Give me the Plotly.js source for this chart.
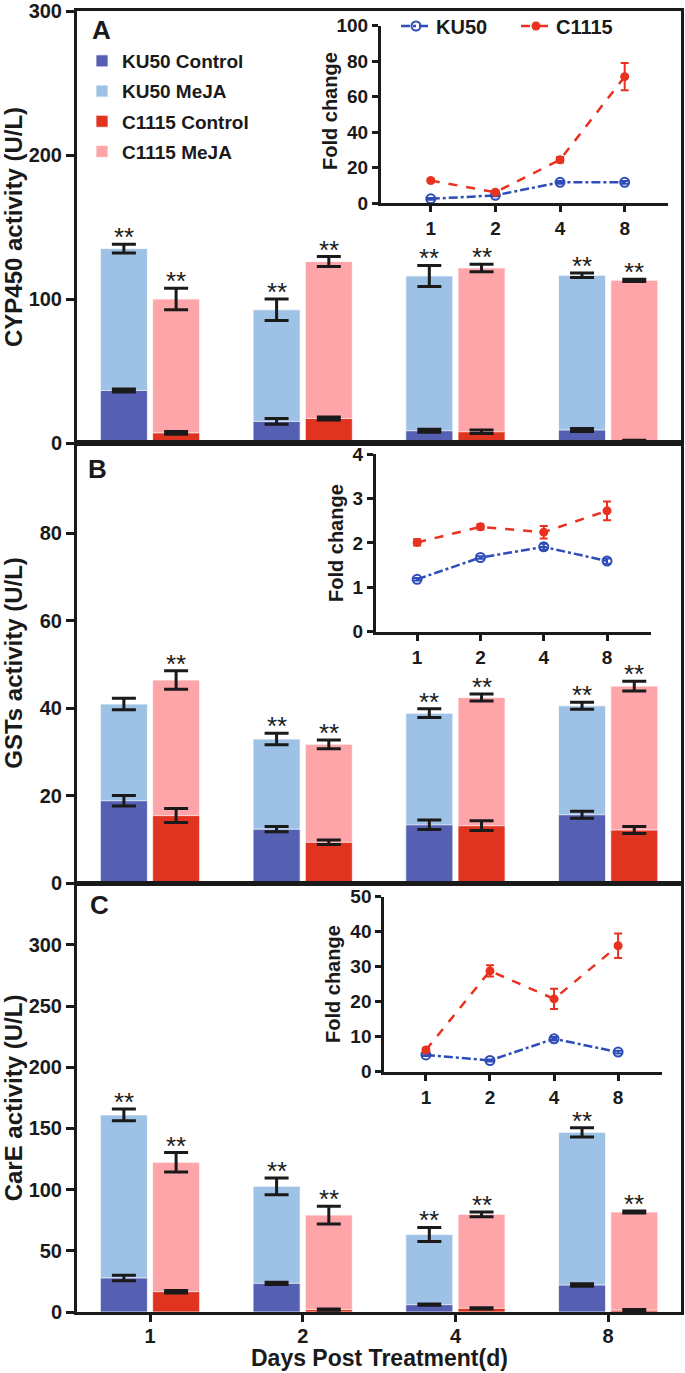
<!DOCTYPE html>
<html>
<head>
<meta charset="utf-8">
<script src="https://cdn.plot.ly/plotly-3.0.1.min.js"></script>
<style>
html,body{margin:0;padding:0;background:#fff;}
#chart{width:685px;height:1373px;}
</style>
</head>
<body>
<div id="chart"></div>
<script>
// ---------------- DATA ----------------
const days = ['1', '2', '4', '8'];
const seriesNames = ['KU50 Control', 'KU50 MeJA', 'C1115 Control', 'C1115 MeJA'];

// Panel A: CYP450 activity (U/L)
const aKu50Ctrl = [36.5, 15, 8.5, 9];
const aKu50CtrlErr = [1, 2, 1, 1];
const aKu50Meja = [135, 92.5, 116, 116.5];
const aKu50MejaErr = [3, 7.5, 7.3, 1.5];
const aC1115Ctrl = [7, 17, 7.8, 1.4];
const aC1115CtrlErr = [1, 1, 1.2, 0.5];
const aC1115Meja = [100, 126, 121.6, 113];
const aC1115MejaErr = [7.5, 3.5, 2.6, 0.8];
const aKu50Sig = [true, true, true, true];
const aC1115Sig = [true, true, true, true];

// Panel B: GSTs activity (U/L)
const bKu50Ctrl = [18.8, 12.3, 13.3, 15.6];
const bKu50CtrlErr = [1.2, 0.6, 1.1, 0.8];
const bKu50Meja = [40.9, 32.9, 38.8, 40.5];
const bKu50MejaErr = [1.3, 1.3, 1.0, 0.8];
const bC1115Ctrl = [15.4, 9.3, 13.1, 12.1];
const bC1115CtrlErr = [1.6, 0.5, 1.1, 0.8];
const bC1115Meja = [46.4, 31.7, 42.4, 45];
const bC1115MejaErr = [2.1, 1.0, 0.8, 1.1];
const bKu50Sig = [false, true, true, true];
const bC1115Sig = [true, true, true, true];

// Panel C: CarE activity (U/L)
const cKu50Ctrl = [27.8, 23.4, 6, 22];
const cKu50CtrlErr = [2.3, 1, 0.5, 1];
const cKu50Meja = [161, 102.7, 63.4, 146.8];
const cKu50MejaErr = [4.8, 6.8, 5.7, 3.8];
const cC1115Ctrl = [16.6, 2, 3, 1.5];
const cC1115CtrlErr = [1, 0.5, 0.5, 0.5];
const cC1115Meja = [122.3, 79.2, 79.8, 81.7];
const cC1115MejaErr = [8, 7.2, 2, 0.8];
const cKu50Sig = [true, true, true, true];
const cC1115Sig = [true, true, true, true];

// Insets: fold change
const foldA_ku50 = [2.5, 4.5, 11.8, 11.8];
const foldA_ku50Err = [0.5, 0.5, 0.8, 0.8];
const foldA_c1115 = [12.8, 6.2, 24.5, 71.3];
const foldA_c1115Err = [1, 1, 1.5, 7.7];
const foldB_ku50 = [1.18, 1.67, 1.91, 1.59];
const foldB_ku50Err = [0.03, 0.03, 0.07, 0.06];
const foldB_c1115 = [2.01, 2.36, 2.24, 2.72];
const foldB_c1115Err = [0.07, 0.06, 0.14, 0.21];
const foldC_ku50 = [4.8, 3.2, 9.4, 5.6];
const foldC_ku50Err = [0.3, 0.3, 0.5, 0.4];
const foldC_c1115 = [6.2, 28.8, 20.8, 36];
const foldC_c1115Err = [0.5, 1.6, 2.9, 3.5];

// ---------------- STYLE ----------------
const FONT = 'Liberation Sans, Arial, Helvetica, sans-serif';
const INK = '#1a1a1a';
const COL = {
  'KU50 Control': '#5560B2',
  'KU50 MeJA': '#9EC1E6',
  'C1115 Control': '#E03421',
  'C1115 MeJA': '#FDA5A9'
};
const LINE_BLUE = '#2E4DB8';
const LINE_RED = '#E8321F';
const BW = 0.308;
const OFF_KU = -0.325;
const OFF_C = 0.017;

const W = 685, H = 1373;
const px = v => v / W;
const py = v => 1 - v / H;

const traces = [];
const annotations = [];

function barTrace(name, vals, errs, offset, xa, ya, showLegend) {
  return {
    type: 'bar', name: name, x: days, y: vals,
    offset: offset, width: BW, xaxis: xa, yaxis: ya,
    marker: {color: COL[name], line: {color: 'rgba(255,255,255,0.75)', width: 1}},
    error_y: {type: 'data', array: errs, visible: true, color: INK, thickness: 3, width: 12},
    showlegend: showLegend, legendgroup: name,
    legendrank: seriesNames.indexOf(name) + 1,
    hoverinfo: 'skip'
  };
}

function star(xref, yref, x, y) {
  return {xref: xref, yref: yref, x: x, y: y, text: '**', showarrow: false,
    yanchor: 'bottom', xanchor: 'center', yshift: -10,
    font: {family: FONT, size: 26, color: INK}};
}

function addPanel(xa, ya, d, showLegend) {
  // MeJA bars behind, Control bars in front (overlay)
  traces.push(barTrace('KU50 MeJA', d.kuM, d.kuMe, OFF_KU, xa, ya, showLegend));
  traces.push(barTrace('C1115 MeJA', d.cM, d.cMe, OFF_C, xa, ya, showLegend));
  traces.push(barTrace('KU50 Control', d.kuC, d.kuCe, OFF_KU, xa, ya, showLegend));
  traces.push(barTrace('C1115 Control', d.cC, d.cCe, OFF_C, xa, ya, showLegend));
  days.forEach((dd, i) => {
    if (d.kuSig[i]) annotations.push(star(xa, ya, i + OFF_KU + BW / 2, d.kuM[i] + d.kuMe[i]));
    if (d.cSig[i]) annotations.push(star(xa, ya, i + OFF_C + BW / 2, d.cM[i] + d.cMe[i]));
  });
}

addPanel('x', 'y', {kuC: aKu50Ctrl, kuCe: aKu50CtrlErr, kuM: aKu50Meja, kuMe: aKu50MejaErr,
  cC: aC1115Ctrl, cCe: aC1115CtrlErr, cM: aC1115Meja, cMe: aC1115MejaErr, kuSig: aKu50Sig, cSig: aC1115Sig}, true);
addPanel('x2', 'y2', {kuC: bKu50Ctrl, kuCe: bKu50CtrlErr, kuM: bKu50Meja, kuMe: bKu50MejaErr,
  cC: bC1115Ctrl, cCe: bC1115CtrlErr, cM: bC1115Meja, cMe: bC1115MejaErr, kuSig: bKu50Sig, cSig: bC1115Sig}, false);
addPanel('x3', 'y3', {kuC: cKu50Ctrl, kuCe: cKu50CtrlErr, kuM: cKu50Meja, kuMe: cKu50MejaErr,
  cC: cC1115Ctrl, cCe: cC1115CtrlErr, cM: cC1115Meja, cMe: cC1115MejaErr, kuSig: cKu50Sig, cSig: cC1115Sig}, false);

function foldTraces(xa, ya, ku, kuE, c, cE, showLegend) {
  traces.push({
    type: 'scatter', mode: 'lines+markers', name: 'KU50', x: days, y: ku,
    xaxis: xa, yaxis: ya, legend: 'legend2', showlegend: showLegend,
    line: {color: LINE_BLUE, width: 2.5, dash: 'dashdot'},
    marker: {symbol: 'circle-open', size: 9, color: LINE_BLUE, line: {width: 2, color: LINE_BLUE}},
    error_y: {type: 'data', array: kuE, visible: true, color: LINE_BLUE, thickness: 2, width: 4},
    hoverinfo: 'skip'
  });
  traces.push({
    type: 'scatter', mode: 'lines+markers', name: 'C1115', x: days, y: c,
    xaxis: xa, yaxis: ya, legend: 'legend2', showlegend: showLegend,
    line: {color: LINE_RED, width: 2.5, dash: 'dash'},
    marker: {symbol: 'circle', size: 9, color: LINE_RED},
    error_y: {type: 'data', array: cE, visible: true, color: LINE_RED, thickness: 2, width: 4},
    hoverinfo: 'skip'
  });
}
foldTraces('x4', 'y4', foldA_ku50, foldA_ku50Err, foldA_c1115, foldA_c1115Err, true);
foldTraces('x5', 'y5', foldB_ku50, foldB_ku50Err, foldB_c1115, foldB_c1115Err, false);
foldTraces('x6', 'y6', foldC_ku50, foldC_ku50Err, foldC_c1115, foldC_c1115Err, false);

// ---------------- AXES ----------------
const tickFont = {family: FONT, size: 20, color: INK, weight: 'bold'};
const insetTickFont = {family: FONT, size: 19, color: INK, weight: 'bold'};
const titleFont = {family: FONT, size: 24, color: INK, weight: 'bold'};

const mainXDomain = [px(77), px(681)];
const mainXRange = [-0.478, 3.477];

function mainX(anchor, showLabels) {
  return {
    domain: mainXDomain, anchor: anchor, type: 'category', range: mainXRange,
    showline: true, linewidth: 3, linecolor: INK, mirror: true,
    showgrid: false, zeroline: false,
    ticks: showLabels ? 'outside' : '', ticklen: 7, tickwidth: 3, tickcolor: INK,
    showticklabels: showLabels, tickfont: tickFont, ticklabelstandoff: -3,
    fixedrange: true
  };
}
function mainY(anchor, dom, range, tv, title, standoff) {
  return {
    domain: dom, anchor: anchor, range: range, tickvals: tv,
    showline: true, linewidth: 3, linecolor: INK, mirror: true,
    showgrid: false, zeroline: false,
    ticks: 'outside', ticklen: 8, tickwidth: 3, tickcolor: INK,
    tickfont: tickFont, ticklabeloverflow: 'allow',
    title: {text: title, font: titleFont, standoff: standoff},
    fixedrange: true
  };
}
function insetX(anchor, dom, range) {
  return {
    domain: dom, anchor: anchor, type: 'category', range: range,
    showline: true, linewidth: 3, linecolor: INK, mirror: false,
    showgrid: false, zeroline: false,
    ticks: 'outside', ticklen: 6, tickwidth: 3, tickcolor: INK,
    tickfont: insetTickFont, fixedrange: true
  };
}
function insetY(anchor, dom, range, dtick) {
  return {
    domain: dom, anchor: anchor, range: range, dtick: dtick, tick0: 0,
    showline: true, linewidth: 3, linecolor: INK, mirror: false,
    showgrid: false, zeroline: false,
    ticks: 'outside', ticklen: 6, tickwidth: 3, tickcolor: INK,
    tickfont: insetTickFont, ticklabeloverflow: 'allow',
    fixedrange: true
  };
}
function foldTitle(xc, yc) {
  return {xref: 'paper', yref: 'paper', x: px(xc), y: py(yc), text: 'Fold change',
    textangle: -90, showarrow: false, xanchor: 'center', yanchor: 'middle',
    font: {family: FONT, size: 20, color: INK, weight: 'bold'}};
}
function panelLabel(t, xc, yc) {
  return {xref: 'paper', yref: 'paper', x: px(xc), y: py(yc), text: t, showarrow: false,
    xanchor: 'center', yanchor: 'middle', font: {family: FONT, size: 26, color: INK, weight: 'bold'}};
}

const layout = {
  width: W, height: H,
  margin: {l: 0, r: 0, t: 0, b: 0, pad: 0},
  paper_bgcolor: '#ffffff', plot_bgcolor: 'rgba(0,0,0,0)',
  font: {family: FONT, color: INK},
  barmode: 'overlay',
  xaxis: mainX('y', false),
  xaxis2: mainX('y2', false),
  xaxis3: mainX('y3', true),
  yaxis: mainY('x', [py(443), py(11)], [0, 300], [0, 100, 200, 300], 'CYP450 activity (U/L)', 8),
  yaxis2: mainY('x2', [py(883), py(443)], [0, 100.57], [0, 20, 40, 60, 80], 'GSTs activity (U/L)', 19),
  yaxis3: mainY('x3', [py(1312), py(884)], [0, 349.7], [0, 50, 100, 150, 200, 250, 300], 'CarE activity (U/L)', 8),
  xaxis4: insetX('y4', [px(381), px(668)], [-0.77, 3.67]),
  yaxis4: insetY('x4', [py(203.3), py(25.7)], [0, 100], 20),
  xaxis5: insetX('y5', [px(376), px(650.7)], [-0.65, 3.69]),
  yaxis5: insetY('x5', [py(631.7), py(454)], [0, 4], 1),
  xaxis6: insetX('y6', [px(384.3), px(662.3)], [-0.65, 3.69]),
  yaxis6: insetY('x6', [py(1071.7), py(896.7)], [0, 50], 10),
  legend: {
    x: px(82), y: py(42), xanchor: 'left', yanchor: 'top',
    bgcolor: 'rgba(0,0,0,0)', borderwidth: 0,
    font: {family: FONT, size: 19, color: INK, weight: 'bold'},
    tracegroupgap: 2.5, itemwidth: 30, traceorder: 'grouped'
  },
  legend2: {
    x: px(396), y: py(26), xanchor: 'left', yanchor: 'middle',
    orientation: 'h', bgcolor: 'rgba(0,0,0,0)', borderwidth: 0,
    font: {family: FONT, size: 20, color: INK, weight: 'bold'},
    itemwidth: 30, entrywidth: 75, entrywidthmode: 'pixels'
  },
  annotations: annotations.concat([
    panelLabel('A', 101, 30),
    panelLabel('B', 98, 469),
    panelLabel('C', 99, 905),
    foldTitle(330, 111),
    foldTitle(336, 543),
    foldTitle(333, 984),
    {xref: 'paper', yref: 'paper', x: (mainXDomain[0] + mainXDomain[1]) / 2, y: 0,
      text: 'Days Post Treatment(d)', showarrow: false, xanchor: 'center', yanchor: 'bottom',
      font: {family: FONT, size: 23, color: INK, weight: 'bold'}}
  ]),
  showlegend: true
};

Plotly.newPlot('chart', traces, layout, {staticPlot: true, displayModeBar: false});
</script>
</body>
</html>
